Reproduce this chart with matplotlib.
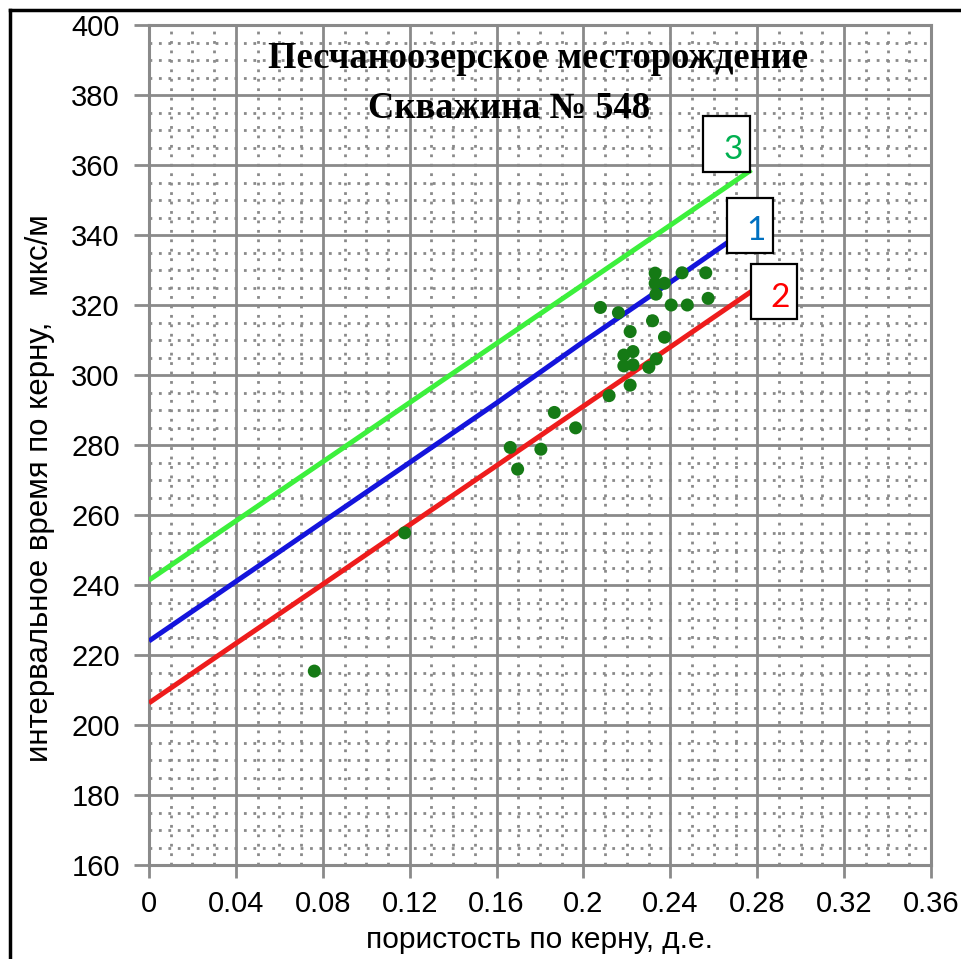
import matplotlib
matplotlib.use("Agg")
import matplotlib.pyplot as plt
from matplotlib.ticker import MultipleLocator
from matplotlib.patches import Rectangle
from matplotlib.lines import Line2D

# ---- data ----
line1_x = [0.0, 0.04, 0.08, 0.12, 0.16, 0.20, 0.24, 0.2667]
line1_y = [224.0, 241.0, 258.0, 275.0, 292.0, 309.5, 326.5, 338.0]
line2_x = [0.0, 0.04, 0.08, 0.12, 0.16, 0.20, 0.24, 0.2783]
line2_y = [206.3, 223.3, 240.2, 257.2, 274.1, 291.1, 308.0, 324.3]
line3_x = [0.0, 0.04, 0.08, 0.12, 0.16, 0.20, 0.24, 0.2773]
line3_y = [241.4, 258.3, 275.2, 292.1, 309.0, 325.9, 342.8, 358.6]

pts_x = [0.2330, 0.2454, 0.2563, 0.2330, 0.2373, 0.2334, 0.2574, 0.2078,
         0.2161, 0.2404, 0.2478, 0.2318, 0.2215, 0.2373, 0.2186, 0.2228,
         0.2186, 0.2228, 0.2335, 0.2301, 0.2215, 0.2118, 0.1866, 0.1964,
         0.1663, 0.1804, 0.1697, 0.1177, 0.0761]
pts_y = [329.1, 329.2, 329.2, 326.2, 326.2, 323.1, 321.9, 319.3,
         317.8, 320.0, 320.0, 315.5, 312.4, 310.8, 305.7, 306.7,
         302.6, 302.9, 304.6, 302.2, 297.1, 294.1, 289.3, 284.9,
         279.3, 278.8, 273.1, 254.9, 215.4]

x_ticks = [0, 0.04, 0.08, 0.12, 0.16, 0.2, 0.24, 0.28, 0.32, 0.36]
x_tick_labels = ["0", "0.04", "0.08", "0.12", "0.16", "0.2", "0.24", "0.28", "0.32", "0.36"]
y_ticks = [160, 180, 200, 220, 240, 260, 280, 300, 320, 340, 360, 380, 400]

title1 = "Песчаноозерское месторождение"
title2 = "Скважина № 548"
xlabel = "пористость по керну, д.е."
ylabel = "интервальное время по керну,   мкс/м"
line_labels = ["1", "2", "3"]

# ---- figure ----
W, H = 961, 959
fig = plt.figure(figsize=(W / 100, H / 100), dpi=100)
fig.patch.set_facecolor("white")

def fx(px):
    return px / W

def fy(py):
    return 1 - py / H

L, R, T, B = 149, 931, 25, 865
ax = fig.add_axes([fx(L), fy(B), (R - L) / W, (B - T) / H])
ax.set_xlim(0, 0.36)
ax.set_ylim(160, 400)

grid_col = "#8a8a8a"
ax.xaxis.set_major_locator(MultipleLocator(0.04))
ax.xaxis.set_minor_locator(MultipleLocator(0.01))
ax.yaxis.set_major_locator(MultipleLocator(20))
ax.yaxis.set_minor_locator(MultipleLocator(5))
ax.set_xticks(x_ticks)
ax.set_xticklabels(x_tick_labels)
ax.set_yticks(y_ticks)
ax.grid(which="major", color=grid_col, linewidth=2.0, linestyle="-")
ax.grid(which="minor", color=grid_col, linewidth=2.0, linestyle=(0, (1, 2.4)))
ax.set_axisbelow(True)
for s in ax.spines.values():
    s.set_color(grid_col)
    s.set_linewidth(2.2)
ax.tick_params(which="major", direction="out", length=11, width=2.0, color=grid_col,
               labelsize=21, pad=10, labelcolor="black")
ax.tick_params(axis="x", length=9, pad=9)
ax.tick_params(which="minor", length=0)
for lab in ax.get_xticklabels() + ax.get_yticklabels():
    lab.set_fontfamily("Liberation Sans")

ax.plot(line3_x, line3_y, color="#3cf03c", linewidth=3.6, solid_capstyle="butt", zorder=3)
ax.plot(line1_x, line1_y, color="#1414dc", linewidth=3.6, solid_capstyle="butt", zorder=3)
ax.plot(line2_x, line2_y, color="#ee1c1c", linewidth=3.6, solid_capstyle="butt", zorder=3)
ax.scatter(pts_x, pts_y, s=88, color="#157a15", edgecolors="none", zorder=4)

# titles
fig.text(fx(538), fy(58), title1, ha="center", va="center", fontsize=26.3,
         fontweight="bold", family="Liberation Serif", color="black")
fig.text(fx(509), fy(109), title2, ha="center", va="center", fontsize=26.3,
         fontweight="bold", family="Liberation Serif", color="black")

# axis labels
fig.text(fx(540), fy(940), xlabel, ha="center", va="center", fontsize=21.5,
         family="Liberation Sans")
fig.text(fx(40), fy(488), ylabel, ha="center", va="center", fontsize=22.5,
         family="Liberation Sans", rotation=90)

# label boxes
boxes = [
    (726.7, 197.7, 772.7, 252.7, 756, 231, "#0070c0", line_labels[0]),
    (750.7, 264.0, 796.7, 319.3, 780, 298, "#ff0000", line_labels[1]),
    (703.0, 116.0, 750.0, 172.0, 733, 150, "#00b050", line_labels[2]),
]
for x0, y0, x1, y1, tx, ty, c, t in boxes:
    fig.patches.append(Rectangle((fx(x0), fy(y1)), (x1 - x0) / W, (y1 - y0) / H,
                                 transform=fig.transFigure, facecolor="white",
                                 edgecolor="black", linewidth=1.6, zorder=5))
    fig.text(fx(tx), fy(ty), t, ha="center", va="center", fontsize=24,
             family="Lato", color=c, zorder=6)

# outer frame (top and left)
fig.lines.append(Line2D([fx(10), fx(10)], [0, fy(10)], transform=fig.transFigure,
                        color="black", linewidth=2.5))
fig.lines.append(Line2D([fx(10), 1], [fy(10), fy(10)], transform=fig.transFigure,
                        color="black", linewidth=2.5))

fig.savefig("out.png", dpi=100, facecolor="white")
